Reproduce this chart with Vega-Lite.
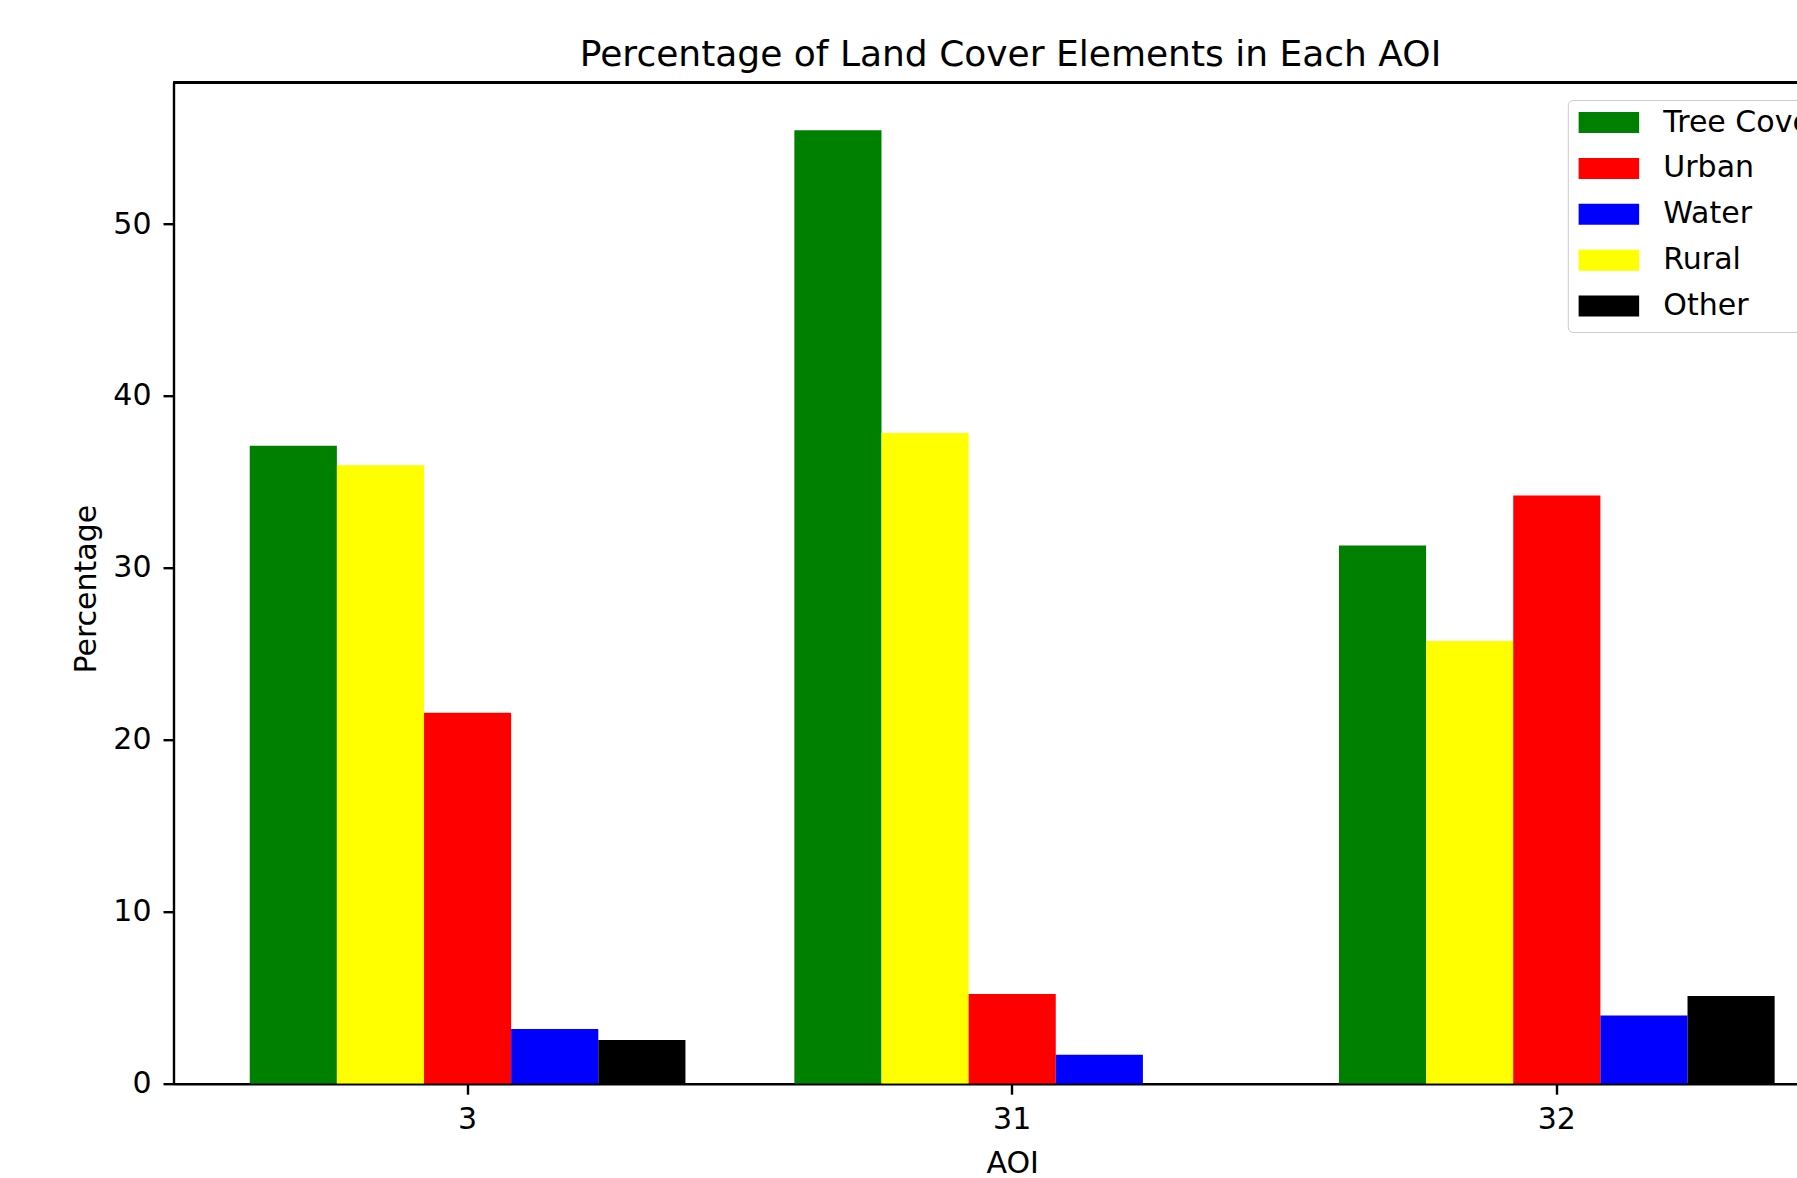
{
  "$schema": "https://vega.github.io/schema/vega-lite/v6.json",
  "autosize": {"type": "none"},
  "padding": {"left": 173.5, "top": 82.7, "right": 0, "bottom": 94.3},
  "width": 1623.5,
  "height": 1001,
  "background": "white",
  "config": {
    "view": {"stroke": null},
    "font": "DejaVu Sans",
    "axis": {"grid": false, "labelColor": "black", "titleColor": "black", "domainColor": "black", "tickColor": "black", "domainWidth": 2.4, "tickWidth": 2.4, "tickSize": 10.5, "labelFontSize": 30, "titleFontSize": 30, "titleFontWeight": "normal", "labelFont": "DejaVu Sans", "titleFont": "DejaVu Sans"}
  },
  "title": {"text": "Percentage of Land Cover Elements in Each AOI", "fontSize": 36, "font": "DejaVu Sans", "fontWeight": "normal", "color": "black", "anchor": "middle", "frame": "group", "baseline": "alphabetic", "offset": 18, "dx": 25.3, "dy": 38},
  "data": {"values": [
    {"AOI": "3", "Element": "Tree Cover", "Percentage": 37.11},
    {"AOI": "3", "Element": "Rural", "Percentage": 35.97},
    {"AOI": "3", "Element": "Urban", "Percentage": 21.58},
    {"AOI": "3", "Element": "Water", "Percentage": 3.18},
    {"AOI": "3", "Element": "Other", "Percentage": 2.54},
    {"AOI": "31", "Element": "Tree Cover", "Percentage": 55.45},
    {"AOI": "31", "Element": "Rural", "Percentage": 37.85},
    {"AOI": "31", "Element": "Urban", "Percentage": 5.22},
    {"AOI": "31", "Element": "Water", "Percentage": 1.69},
    {"AOI": "32", "Element": "Tree Cover", "Percentage": 31.3},
    {"AOI": "32", "Element": "Rural", "Percentage": 25.75},
    {"AOI": "32", "Element": "Urban", "Percentage": 34.21},
    {"AOI": "32", "Element": "Water", "Percentage": 3.96},
    {"AOI": "32", "Element": "Other", "Percentage": 5.1}
  ]},
  "layer": [
    {
      "mark": {"type": "bar", "clip": true},
      "encoding": {
        "x": {"field": "AOI", "type": "nominal", "sort": ["3", "31", "32"],
          "scale": {"range": [0, 1677.4], "paddingInner": 0.2, "paddingOuter": 0.14},
          "axis": {"labelAngle": 0, "labelPadding": 10, "title": "AOI", "titleX": 838.7, "titlePadding": 14}},
        "xOffset": {"field": "Element", "type": "nominal",
          "scale": {"domain": ["Tree Cover", "Rural", "Urban", "Water", "Other"], "paddingInner": 0, "paddingOuter": 0}},
        "y": {"field": "Percentage", "type": "quantitative",
          "scale": {"domain": [0, 58.22], "nice": false, "zero": true},
          "axis": {"values": [0, 10, 20, 30, 40, 50], "labelPadding": 12, "title": "Percentage", "titleX": -86.8, "titleY": 506, "titleBaseline": "middle", "titleAngle": -90}},
        "color": {"field": "Element", "type": "nominal",
          "scale": {"domain": ["Tree Cover", "Urban", "Water", "Rural", "Other"], "range": ["#008000", "#ff0000", "#0000ff", "#ffff00", "#000000"]},
          "legend": {"orient": "none", "legendX": 1394.3, "legendY": 17.3, "title": null,
            "symbolType": "M-1,-0.346L1,-0.346L1,0.346L-1,0.346Z", "symbolSize": 3684, "symbolStrokeWidth": 0,
            "labelFontSize": 30, "labelFont": "DejaVu Sans", "labelColor": "black", "labelOffset": 24,
            "clipHeight": 24, "rowPadding": 15.9, "padding": 10.5,
            "strokeColor": "#cccccc", "fillColor": "rgba(255,255,255,0.8)", "cornerRadius": 5}}
      }
    },
    {
      "mark": {"type": "rule", "color": "black", "strokeWidth": 2.4},
      "encoding": {"y": {"datum": 58.22}}
    }
  ]
}
